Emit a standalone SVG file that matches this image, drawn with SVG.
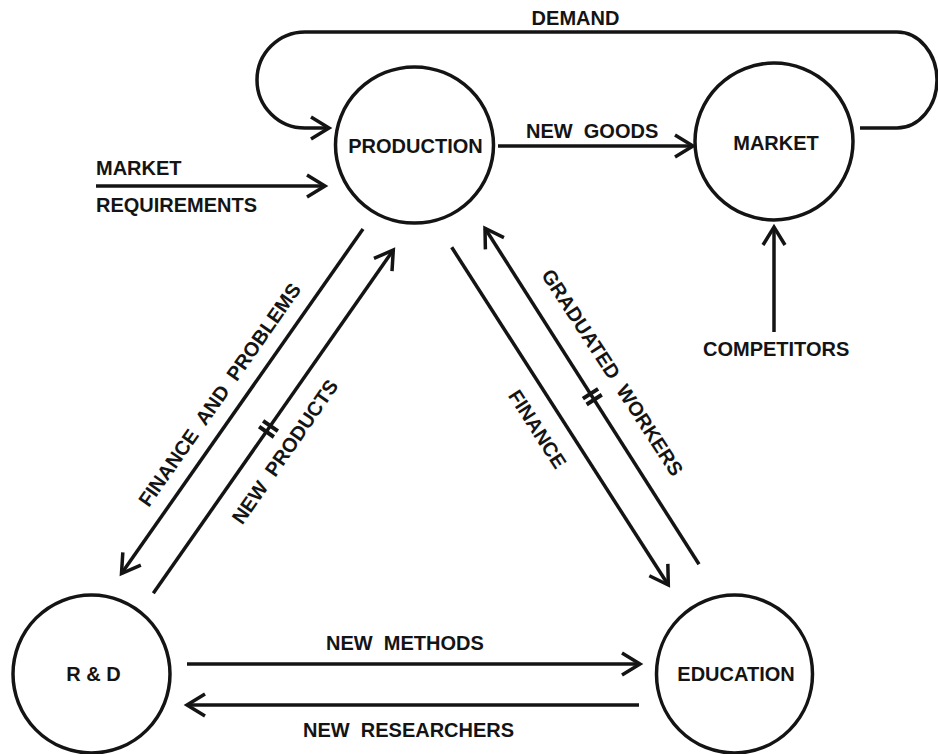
<svg xmlns="http://www.w3.org/2000/svg" width="938" height="754" viewBox="0 0 938 754">
<style>
.node{fill:none;stroke:#141414;stroke-width:3.5}
.edge{fill:none;stroke:#141414;stroke-width:3.5}
.hash{fill:none;stroke:#141414;stroke-width:4}
.t{font-family:"Liberation Sans",Arial,sans-serif;font-weight:bold;font-size:20px;fill:#141414;white-space:pre}
.m{text-anchor:middle}
</style>
<defs>
<marker id="arr" viewBox="-22 -14 26 28" refX="0" refY="0" markerWidth="26" markerHeight="28" markerUnits="userSpaceOnUse" orient="auto">
<path d="M-18,-11 L0,0 L-18,11" fill="none" stroke="#141414" stroke-width="3.5"/>
</marker>
</defs>
<rect width="938" height="754" fill="#fff"/>
<g id="connectors">
<path class="edge" d="M860,128 H897 A40,48 0 0 0 897,32 H305 A48,48 0 0 0 305,128 H329" marker-end="url(#arr)"/>
<path class="edge" d="M498,146 H693" marker-end="url(#arr)"/>
<path class="edge" d="M96,186 H325" marker-end="url(#arr)"/>
<path class="edge" d="M774,332 V227" marker-end="url(#arr)"/>
<path class="edge" d="M187,664 H640" marker-end="url(#arr)"/>
<path class="edge" d="M639,705 H187" marker-end="url(#arr)"/>
<path class="edge" d="M363,229 L121.5,573.5" marker-end="url(#arr)"/>
<path class="edge" d="M153.3,593.3 L393.3,250" marker-end="url(#arr)"/>
<path class="edge" d="M451.7,247.3 L668.3,585" marker-end="url(#arr)"/>
<path class="edge" d="M699,564.3 L485,228.3" marker-end="url(#arr)"/>
<path class="hash" d="M263.1,420.9 L277.9,431.2 M259.1,426.6 L273.9,437.0"/>
<path class="hash" d="M582.9,398.6 L598.1,388.9 M586.6,404.5 L601.8,394.8"/>
<text class="t m" x="575.5" y="25">DEMAND</text>
<text class="t" x="526" y="138">NEW  GOODS</text>
<text class="t" x="96" y="175">MARKET</text>
<text class="t" x="96" y="212">REQUIREMENTS</text>
<text class="t" x="703" y="356">COMPETITORS</text>
<text class="t" x="326" y="650">NEW  METHODS</text>
<text class="t" x="303" y="737">NEW  RESEARCHERS</text>
<text class="t m" transform="translate(219.5,394.7) rotate(-55)" x="0" y="7">FINANCE  AND  PROBLEMS</text>
<text class="t m" transform="translate(285,451.7) rotate(-55.3)" x="0" y="7">NEW  PRODUCTS</text>
<text class="t m" transform="translate(537.5,429) rotate(57.3)" x="0" y="7">FINANCE</text>
<text class="t m" transform="translate(612.5,372.5) rotate(57)" x="0" y="7">GRADUATED  WORKERS</text>
</g>
<g id="production">
<ellipse class="node" cx="414.5" cy="145" rx="79" ry="78"/>
<text class="t m" x="415.5" y="153">PRODUCTION</text>
</g>
<g id="market">
<ellipse class="node" cx="774" cy="141.5" rx="79" ry="78.5"/>
<text class="t m" x="776" y="150">MARKET</text>
</g>
<g id="rnd">
<ellipse class="node" cx="91.5" cy="674" rx="78.5" ry="79"/>
<text class="t m" x="93.5" y="681">R &amp; D</text>
</g>
<g id="education">
<ellipse class="node" cx="734.5" cy="674" rx="78" ry="79"/>
<text class="t m" x="736" y="681">EDUCATION</text>
</g>
</svg>
